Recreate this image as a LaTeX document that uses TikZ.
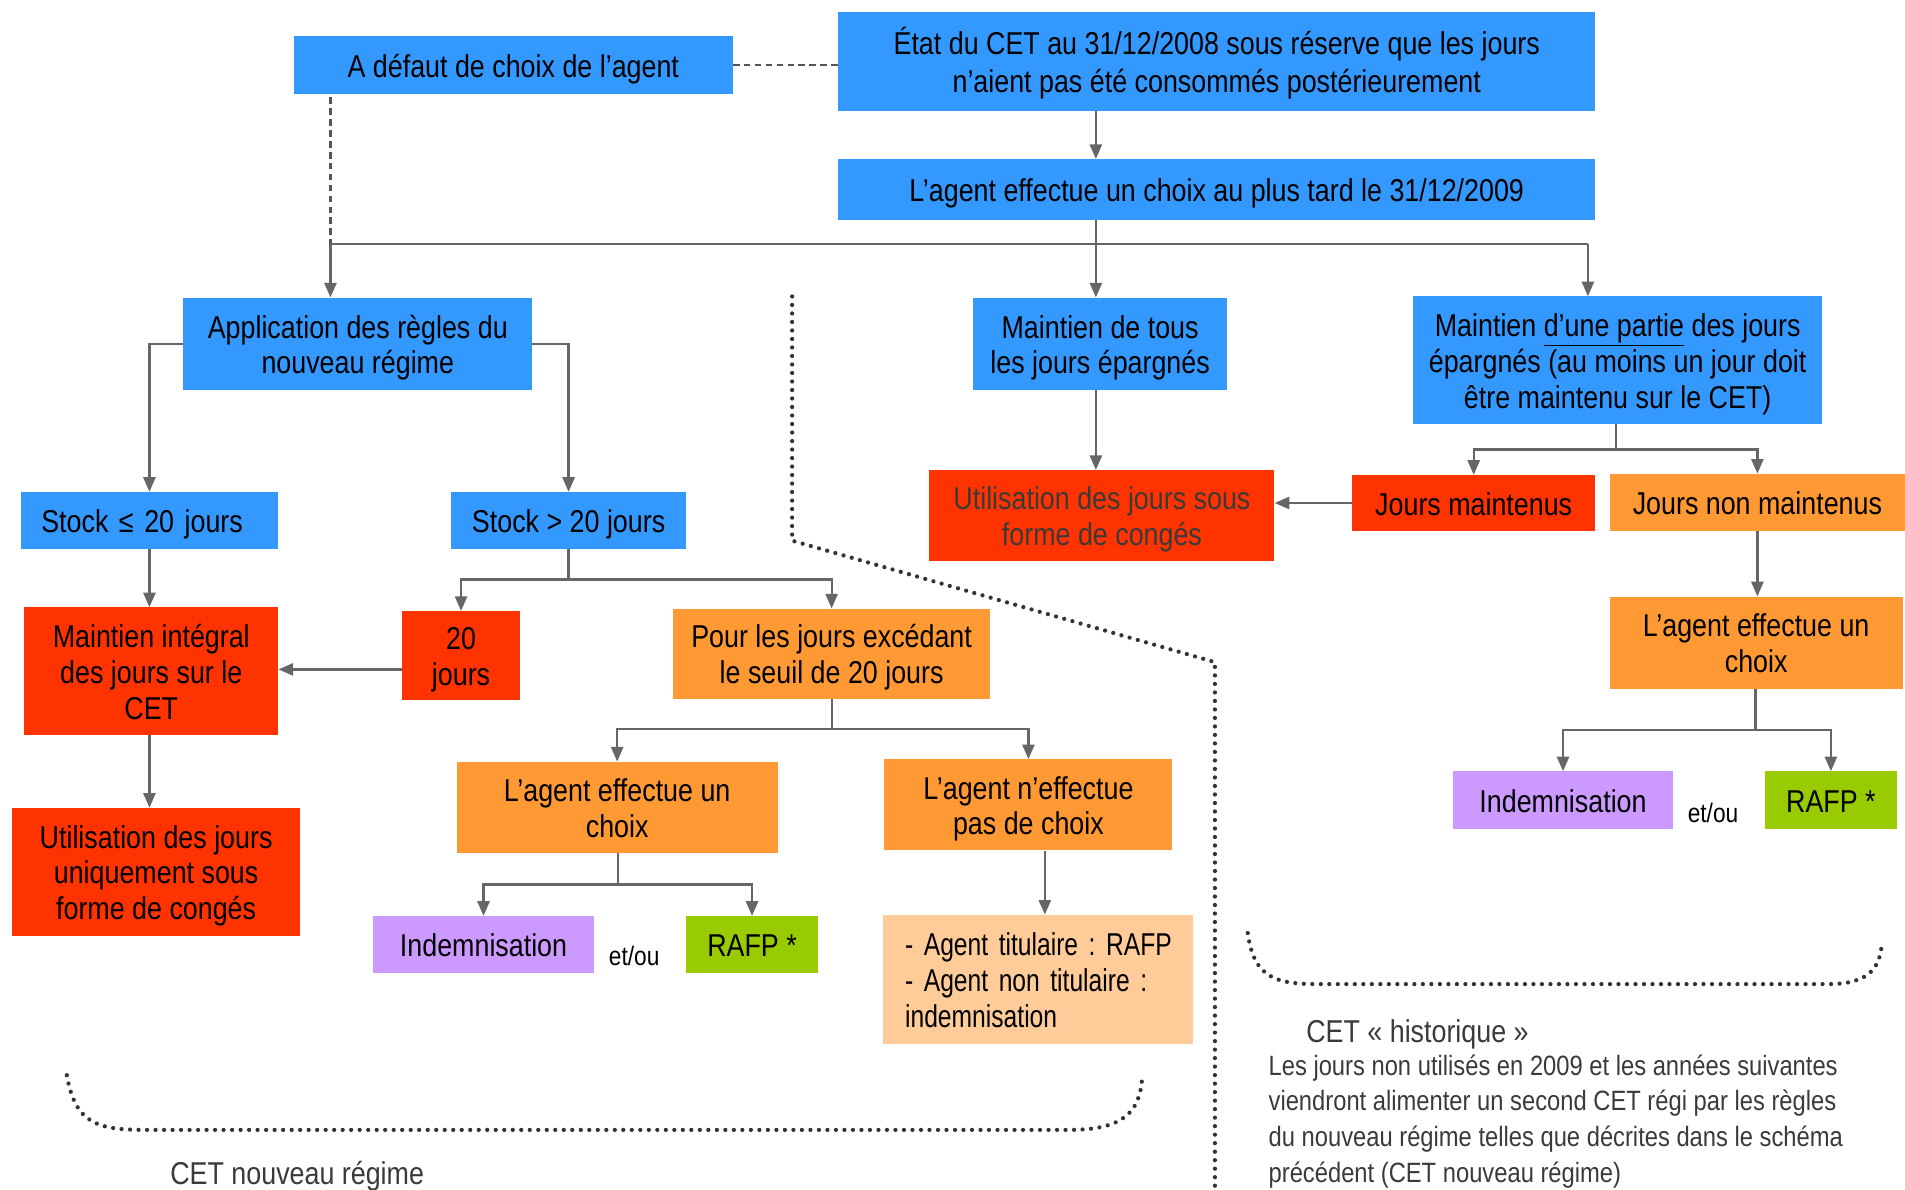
\documentclass[tikz,border=0pt]{standalone}
\usepackage{fontspec}
\setmainfont[FakeStretch=0.85]{Liberation Sans}
\newfontfamily\narrowf[FakeStretch=0.78]{Liberation Sans}
\usetikzlibrary{arrows.meta}
\frenchspacing
\definecolor{cblue}{HTML}{3399FF}
\definecolor{cred}{HTML}{FF3300}
\definecolor{corange}{HTML}{FF9933}
\definecolor{clight}{HTML}{FFCC99}
\definecolor{cpurple}{HTML}{CC99FF}
\definecolor{cgreen}{HTML}{99CC00}
\definecolor{cline}{HTML}{666666}
\definecolor{cdash}{HTML}{555555}
\definecolor{cdot}{HTML}{333333}
\definecolor{ctxt}{HTML}{3A3A3A}
\newcommand\bxfont{\fontsize{26}{29.5}\selectfont\lineskiplimit=-100pt\relax}
\newcommand\bigfont{\fontsize{26}{32}\selectfont\lineskiplimit=-100pt\relax}
\newcommand\nfont{\narrowf\fontsize{26}{29.5}\selectfont\lineskiplimit=-100pt\relax}
\newcommand\smfont{\fontsize{23}{29.3}\selectfont}
\newcommand\T{\rule{0pt}{27pt}}
\newcommand\B{\rule[-7pt]{0pt}{0pt}}
\begin{document}
\frenchspacing
\begin{tikzpicture}[x=1pt,y=-1pt,
  box/.style={inner sep=0pt, align=center, font=\bxfont, text=black},
  bbox/.style={box, fill=cblue},
  rbox/.style={box, fill=cred},
  obox/.style={box, fill=corange},
  lbox/.style={box, fill=clight},
  pbox/.style={box, fill=cpurple},
  gbox/.style={box, fill=cgreen},
  conn/.style={draw=cline, line width=1.8pt},
  arr/.style={conn, -{Triangle[length=12pt,width=10pt]}},
  dashl/.style={draw=cdash, line width=2pt, dash pattern=on 5.5pt off 3.5pt},
  dotl/.style={draw=cdot, line width=3.5pt, line cap=round, dash pattern=on 0pt off 7pt},
  free/.style={inner sep=0pt, font=\bxfont, text=ctxt},
]
\useasboundingbox (0,0) rectangle (1568,979);

% nodes
\node[bbox, minimum width=361, minimum height=47] (defaut) at (422.5,53.5) {\T A défaut de choix de l’agent\B};
\node[bbox, minimum width=623, minimum height=81, font=\bigfont] (etat) at (1001.5,50.5) {\T État du CET au 31/12/2008 sous réserve que les jours\\n’aient pas été consommés postérieurement\B};
\node[bbox, minimum width=623, minimum height=50] (choix) at (1001.5,156) {\T L’agent effectue un choix au plus tard le 31/12/2009\B};
\node[bbox, minimum width=287, minimum height=76] (appli) at (294.5,283) {\T Application des règles du\\nouveau régime\B};
\node[bbox, minimum width=209, minimum height=76] (tous) at (905.5,283) {\T Maintien de tous\\les jours épargnés\B};
\node[bbox, minimum width=337, minimum height=105] (partie) at (1331.5,296.5) {\T Maintien \underline{d’une partie} des jours\\épargnés (au moins un jour doit\\être maintenu sur le CET)\B};
\node[bbox, minimum height=47, text width=178, align=left, inner xsep=17] (stockle) at (123,428.5) {\T Stock ≤ 20 jours\B};
\node[bbox, minimum width=194, minimum height=47] (stockgt) at (468,428.5) {\T Stock > 20 jours\B};
\node[rbox, minimum width=209, minimum height=105] (integral) at (124.5,552.5) {\T Maintien intégral\\des jours sur le\\CET\B};
\node[rbox, minimum width=97, minimum height=73] (vingt) at (379.5,539.5) {\T 20\\jours\B};
\node[obox, minimum width=261, minimum height=74] (exced) at (684.5,538) {\T Pour les jours excédant\\le seuil de 20 jours\B};
\node[obox, minimum width=264, minimum height=75] (eff) at (508,664.5) {\T L’agent effectue un\\choix\B};
\node[obox, minimum width=237, minimum height=75] (neff) at (846.5,662.5) {\T L’agent n’effectue\\pas de choix\B};
\node[pbox, minimum width=182, minimum height=47] (indemA) at (398,777.5) {\T Indemnisation\B};
\node[gbox, minimum width=108, minimum height=47] (rafpA) at (619,777.5) {\T RAFP *\B};
\node[lbox, minimum height=106, text width=219, align=left, inner xsep=18, font=\nfont] (titul) at (854.5,806) {\T\mbox{- Agent titulaire : RAFP}\\\mbox{- Agent non titulaire :}\\indemnisation\B};
\node[rbox, minimum width=237, minimum height=105] (utilA) at (128.5,717.5) {\T Utilisation des jours\\uniquement sous\\forme de congés\B};
\node[rbox, minimum width=284, minimum height=75, text=ctxt] (utilB) at (907,424.5) {\T Utilisation des jours sous\\forme de congés\B};
\node[rbox, minimum width=200, minimum height=46] (jmaint) at (1213,414) {\T Jours maintenus\B};
\node[obox, minimum width=243, minimum height=47] (jnon) at (1446.5,413.5) {\T Jours non maintenus\B};
\node[obox, minimum width=241, minimum height=76] (effB) at (1445.5,529) {\T L’agent effectue un\\choix\B};
\node[pbox, minimum width=181, minimum height=47] (indemB) at (1286.5,658.5) {\T Indemnisation\B};
\node[gbox, minimum width=108, minimum height=47] (rafpB) at (1507,658.5) {\T RAFP *\B};
\node[inner sep=0pt, font=\fontsize{22}{26}\selectfont] (etouA) at (522,787) {et/ou};
\node[inner sep=0pt, font=\fontsize{22}{26}\selectfont] (etouB) at (1410,669) {et/ou};

% free texts
\node[free, anchor=west] (nouveau) at (140,968) {CET nouveau régime};
\node[free, anchor=west] (histo) at (1075,851) {CET « historique »};
\node[inner sep=0pt, font=\smfont, text=ctxt, align=left, anchor=north west] (para) at (1044,868)
 {Les jours non utilisés en 2009 et les années suivantes\\viendront alimenter un second CET régi par les règles\\du nouveau régime telles que décrites dans le schéma\\précédent (CET nouveau régime)};

% coordinates
\coordinate (cA) at (902,0);
\coordinate (j1) at (902,201);
\coordinate (jL) at (272,201);
\coordinate (jR) at (1307,201);
\coordinate (j2) at (468,477);
\coordinate (a20) at (0,551);
\coordinate (j3) at (685,600);
\coordinate (j4) at (509,728);
\coordinate (c860) at (860,0);
\coordinate (j5) at (1330,370);
\coordinate (j6) at (1445,601);
\coordinate (dtop) at (272,80);

% connectors
\draw[dashl] (defaut.east) -- (etat.west |- defaut.east);
\draw[dashl] (dtop) -- (jL);
\draw[arr] (etat.south -| cA) -- (choix.north -| cA);
\draw[conn] (choix.south -| j1) -- (j1);
\draw[conn] (jL) -- (jR);
\draw[arr] (jL) -- (appli.north -| jL);
\draw[arr] (j1) -- (tous.north -| j1);
\draw[arr] (jR) -- (partie.north -| jR);
\draw[arr] (appli.west) -| (stockle.north);
\draw[arr] (appli.east) -| (stockgt.north);
\draw[arr] (stockle.south) -- (stockle.south |- integral.north);
\draw[conn] (stockgt.south) -- (j2);
\draw[arr] (j2) -| (vingt.north);
\draw[arr] (j2) -| (exced.north);
\draw[arr] (vingt.west |- a20) -- (integral.east |- a20);
\draw[conn] (exced.south -| j3) -- (j3);
\draw[arr] (j3) -| (eff.north);
\draw[arr] (j3) -| (neff.north);
\draw[conn] (eff.south -| j4) -- (j4);
\draw[arr] (j4) -| (indemA.north);
\draw[arr] (j4) -| (rafpA.north);
\draw[arr] (neff.south -| c860) -- (titul.north -| c860);
\draw[arr] (integral.south -| stockle.south) -- (utilA.north -| stockle.south);
\draw[arr] (tous.south -| j1) -- (utilB.north -| j1);
\draw[arr] (jmaint.west) -- (utilB.east |- jmaint.west);
\draw[conn] (partie.south -| j5) -- (j5);
\draw[arr] (j5) -| (jmaint.north);
\draw[arr] (j5) -| (jnon.north);
\draw[arr] (jnon.south) -- (jnon.south |- effB.north);
\draw[conn] (effB.south -| j6) -- (j6);
\draw[arr] (j6) -| (indemB.north);
\draw[arr] (j6) -| (rafpB.north);

% dotted separators
\draw[dotl] (652,244) -- (652,445) -- (1000,545) -- (1000,979);
\draw[dotl] (55,885) .. controls (62,925) and (80,930) .. (120,930) -- (880,930) .. controls (925,930) and (938,915) .. (940,888);
\draw[dotl] (1027,768) .. controls (1032,805) and (1050,810) .. (1085,810) -- (1505,810) .. controls (1540,810) and (1548,795) .. (1549,775);
\end{tikzpicture}
\end{document}
